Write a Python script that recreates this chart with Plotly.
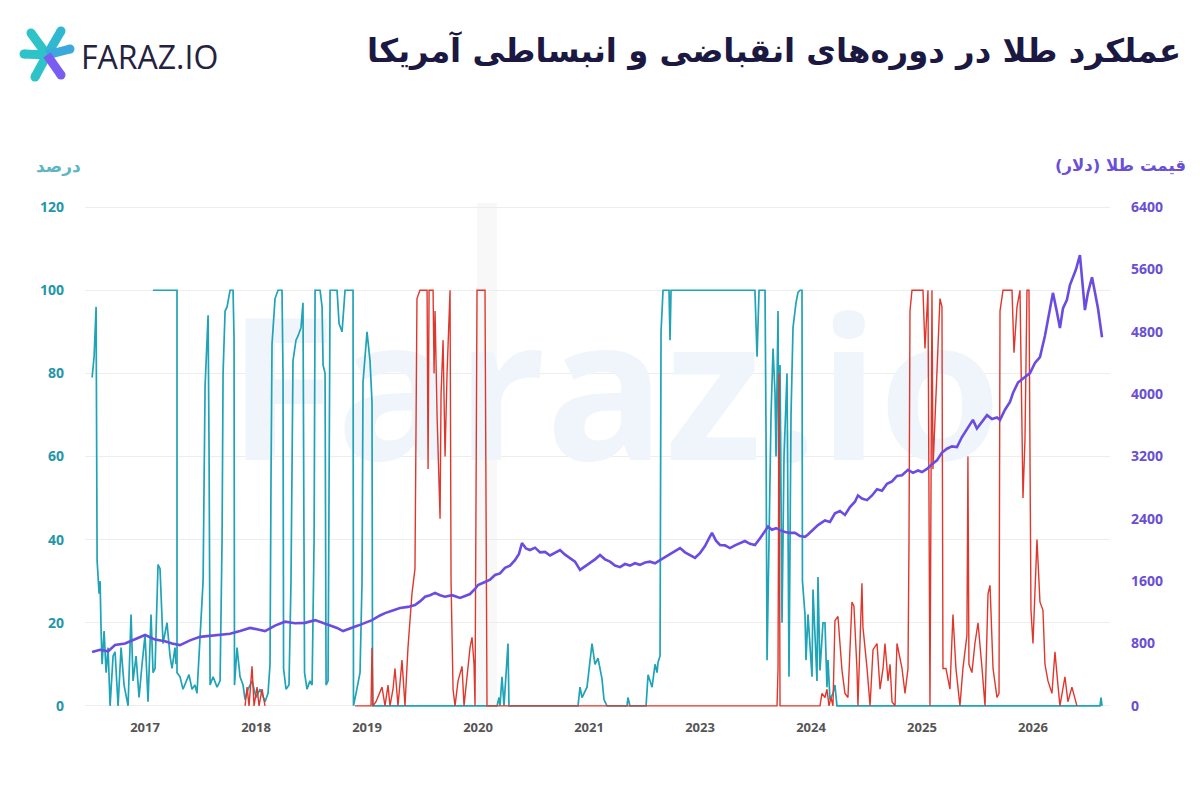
import plotly.graph_objects as go

# ---------------- data (x = position on the time axis, 0 = first labelled year) -------------
tick_pos = [0, 1, 2, 3, 4, 5, 6, 7, 8]
tick_txt = ["2017", "2018", "2019", "2020", "2021", "2023", "2024", "2025", "2026"]

pct_ticks = [0, 20, 40, 60, 80, 100, 120]
usd_ticks = [0, 800, 1600, 2400, 3200, 4000, 4800, 5600, 6400]

# expansion series (teal, %)
teal_x = [-0.477, -0.459, -0.441, -0.437, -0.432, -0.414, -0.405, -0.396, -0.387, -0.369, -0.351, -0.333,
          -0.315, -0.288, -0.270, -0.243, -0.216, -0.189, -0.153, -0.126, -0.108, -0.081, -0.054, -0.027,
          0.000, 0.027, 0.054, 0.072, 0.090, 0.117, 0.135, 0.162, 0.198, 0.225, 0.243, 0.270, 0.279,
          None,
          0.072, 0.288, 0.288, 0.315, 0.342, 0.369, 0.396, 0.423, 0.450, 0.468, 0.486, 0.505, 0.523, 0.541,
          0.568, 0.577, 0.586, 0.613, 0.649, 0.676, 0.694, 0.703, 0.721, 0.739, 0.766, 0.793, 0.802, 0.806,
          0.829, 0.856, 0.883, 0.901, 0.928, 0.964, 1.000, 1.036, 1.081, 1.108, 1.126, 1.135, 1.144, 1.171,
          1.198, 1.234, 1.243, 1.248, 1.270, 1.297, 1.315, 1.333, 1.360, 1.378, 1.405, 1.423, 1.432, 1.437,
          1.459, 1.486, 1.505, 1.523, 1.532, 1.577, 1.595, 1.604, 1.622, 1.631, 1.649, 1.658, 1.667, 1.730,
          1.748, 1.775, 1.802, 1.874, 1.878, 1.901, 1.919, 1.937, 1.955, 1.964, 2.000, 2.027, 2.045, 2.050,
          3.171, 3.189, 3.198, 3.216, 3.234, 3.261, 3.270, 3.279, 3.901, 3.919, 3.937, 3.982, 4.009, 4.027,
          4.054, 4.081, 4.117, 4.135, 4.162, 4.342, 4.351, 4.369, 4.514, 4.532, 4.568, 4.595, 4.613, 4.622,
          4.640, 4.649, 4.667, 4.721, 4.730, 4.739, 5.495, 5.514, 5.532, 5.586, 5.595, 5.604, 5.622, 5.640,
          5.658, 5.676, 5.685, 5.703, 5.712, 5.721, 5.739, 5.757, 5.784, 5.788, 5.802, 5.820, 5.838, 5.865,
          5.883, 5.901, 5.919, 5.923, 5.946, 5.955, 5.973, 6.009, 6.018, 6.054, 6.063, 6.081, 6.108, 6.126,
          6.144, 6.153, 6.171, 6.198, 6.216, 6.234, 8.604, 8.613, 8.622]
teal_y = [79, 84, 96, 60, 35, 27, 30, 18, 10, 18, 8, 14,
          0, 12, 13, 0, 14, 5, 0, 22, 6, 12, 2, 10,
          17, 1, 22, 8, 9, 34, 33, 15, 20, 12, 9, 14, 10,
          None,
          100, 100, 8, 7, 4, 6, 7.5, 4, 5, 3, 12, 22, 30, 77,
          94, 60, 5, 7, 4.5, 6, 40, 80, 95, 96, 100, 100, 88, 5,
          14, 7, 5, 1.5, 4, 6, 2, 4, 1, 3, 10, 55, 87, 98,
          100, 100, 80, 9, 4, 5, 30, 83, 88, 89, 91, 97, 50, 8,
          4, 6, 5, 40, 100, 100, 96, 82, 80, 5, 6, 60, 100, 100,
          92, 90, 100, 100, 0, 3, 6, 8, 30, 78, 90, 83, 73, 0,
          0, 2, 0, 7, 0, 9.5, 15, 0, 0, 4.5, 2, 4.5, 11, 15,
          10, 11.5, 6.5, 1.5, 0, 0, 2, 0, 0, 7.5, 4.5, 10, 8, 10.5,
          12, 90, 100, 100, 88, 100, 100, 84, 100, 100, 65, 11, 40, 70,
          86, 75, 60, 95, 40, 82, 20, 60, 80, 63, 7, 70, 91, 97,
          99.5, 100, 100, 30, 22, 11, 22, 7, 28, 6, 31, 8.5, 20, 20,
          4.5, 11, 1.5, 3, 5, 0, 0, 2, 0]

# contraction series (red, %)
red_x = [0.901, 0.919, 0.937, 0.964, 0.982, 1.009, 1.027, 1.054, 1.081,
         None,
         1.892, 2.036, 2.045, 2.054, 2.081, 2.108, 2.135, 2.162, 2.189, 2.207, 2.234, 2.252, 2.279, 2.315,
         2.342, 2.369, 2.387, 2.405, 2.432, 2.441, 2.450, 2.477, 2.541, 2.550, 2.559, 2.595, 2.604, 2.613,
         2.631, 2.658, 2.667, 2.685, 2.703, 2.721, 2.748, 2.752, 2.757, 2.775, 2.793, 2.820, 2.856, 2.874,
         2.901, 2.928, 2.946, 2.964, 2.973, 2.982, 2.991, 3.063, 3.072, 3.081, 5.694, 5.703, 5.712, 5.721,
         6.081, 6.099, 6.126, 6.144, 6.162, 6.180, 6.198, 6.216, 6.243, 6.279, 6.306, 6.333, 6.369, 6.387,
         6.414, 6.423, 6.459, 6.468, 6.505, 6.532, 6.559, 6.595, 6.622, 6.649, 6.667, 6.694, 6.712, 6.730,
         6.757, 6.775, 6.820, 6.847, 6.874, 6.883, 6.892, 6.910, 7.009, 7.027, 7.054, 7.063, 7.072, 7.081,
         7.090, 7.099, 7.135, 7.162, 7.180, 7.189, 7.216, 7.252, 7.279, 7.306, 7.342, 7.369, 7.405, 7.414,
         7.423, 7.450, 7.477, 7.505, 7.541, 7.568, 7.595, 7.613, 7.640, 7.676, 7.694, 7.703, 7.730, 7.811,
         7.829, 7.856, 7.883, 7.910, 7.928, 7.946, 7.964, 7.973, 7.982, 8.000, 8.027, 8.036, 8.063, 8.090,
         8.108, 8.135, 8.171, 8.198, 8.225, 8.243, 8.288, 8.315, 8.351, 8.378, 8.396]
red_y = [0, 4.5, 0, 9.5, 0, 4.5, 0, 4, 0,
         None,
         0, 0, 14, 0, 1, 3, 4.5, 0, 5, 0, 4, 9, 0, 11,
         0, 14, 20, 27, 33, 70, 98, 100, 100, 57, 100, 100, 80, 95,
         70, 45, 75, 88, 60, 80, 100, 70, 30, 4, 0, 6, 9.5, 0,
         8, 14, 16.5, 10, 0, 50, 100, 100, 50, 0, 0, 9, 80, 0,
         0, 3, 2, 4, 0, 2, 0, 20.5, 21.5, 8.6, 3, 2, 25, 24,
         9, 0, 29.5, 19, 9, 0, 13.5, 15, 4, 9, 15, 6, 10, 1,
         0, 15, 9, 3, 9, 40, 95, 100, 100, 86, 100, 50, 0, 50,
         100, 57, 80, 98, 96, 9, 9, 4, 22, 9, 0, 9, 17, 60,
         10, 8, 15, 20, 9, 0, 27, 29, 9, 2, 3, 95, 100, 100,
         85, 96, 100, 50, 64, 100, 100, 60, 23, 15, 33, 40, 25, 23,
         10, 6, 3, 13, 5, 0, 7, 1, 4.5, 2, 0]

# gold price (purple, USD)
gold_x = [-0.477, -0.405, -0.333, -0.270, -0.180, -0.090, 0.000, 0.045, 0.090, 0.180, 0.243, 0.315,
          0.405, 0.495, 0.586, 0.676, 0.766, 0.856, 0.946, 1.018, 1.081, 1.171, 1.261, 1.351,
          1.441, 1.532, 1.595, 1.667, 1.730, 1.784, 1.847, 1.919, 1.982, 2.045, 2.117, 2.162,
          2.225, 2.297, 2.369, 2.432, 2.477, 2.523, 2.568, 2.613, 2.658, 2.703, 2.766, 2.838,
          2.883, 2.928, 2.973, 3.000, 3.063, 3.108, 3.153, 3.198, 3.243, 3.288, 3.333, 3.369,
          3.396, 3.432, 3.468, 3.514, 3.559, 3.604, 3.649, 3.694, 3.739, 3.784, 3.829, 3.874,
          3.919, 3.964, 4.009, 4.054, 4.099, 4.144, 4.189, 4.234, 4.279, 4.324, 4.369, 4.414,
          4.459, 4.505, 4.550, 4.595, 4.640, 4.685, 4.730, 4.775, 4.820, 4.865, 4.910, 4.955,
          5.000, 5.045, 5.081, 5.108, 5.144, 5.180, 5.225, 5.270, 5.315, 5.360, 5.405, 5.450,
          5.495, 5.541, 5.586, 5.613, 5.649, 5.685, 5.721, 5.766, 5.811, 5.856, 5.901, 5.946,
          5.973, 6.009, 6.063, 6.126, 6.171, 6.216, 6.261, 6.306, 6.351, 6.396, 6.423, 6.459,
          6.505, 6.550, 6.595, 6.640, 6.685, 6.730, 6.775, 6.820, 6.874, 6.919, 6.964, 7.000,
          7.045, 7.090, 7.135, 7.180, 7.225, 7.270, 7.315, 7.360, 7.405, 7.432, 7.459, 7.495,
          7.541, 7.586, 7.631, 7.676, 7.703, 7.748, 7.793, 7.820, 7.865, 7.910, 7.973, 8.018,
          8.063, 8.108, 8.153, 8.180, 8.216, 8.243, 8.270, 8.306, 8.333, 8.360, 8.387, 8.423,
          8.450, 8.468, 8.495, 8.532, 8.559, 8.586, 8.622]
gold_y = [690, 720, 700, 780, 800, 860, 910, 880, 850, 830, 800, 780,
          840, 885, 900, 910, 925, 960, 1000, 980, 960, 1030, 1080, 1060,
          1065, 1100, 1070, 1040, 1000, 960, 990, 1030, 1065, 1100, 1160, 1190,
          1220, 1255, 1270, 1295, 1340, 1400, 1420, 1450, 1420, 1400, 1420, 1385,
          1410, 1435, 1500, 1550, 1590, 1620, 1680, 1700, 1770, 1800, 1870, 1950,
          2090, 2020, 2000, 2030, 1970, 1975, 1930, 1960, 2000, 1940, 1900, 1850,
          1745, 1790, 1830, 1880, 1935, 1880, 1850, 1800, 1780, 1820, 1800, 1830,
          1810, 1840, 1850, 1830, 1870, 1910, 1950, 1990, 2025, 1970, 1935, 1900,
          1960, 2050, 2150, 2220, 2120, 2065, 2060, 2025, 2060, 2090, 2115, 2080,
          2065, 2150, 2250, 2300, 2260, 2280, 2255, 2230, 2220, 2220, 2180, 2170,
          2200, 2250, 2320, 2380, 2360, 2470, 2500, 2450, 2550, 2620, 2700, 2660,
          2640, 2700, 2780, 2760, 2850, 2880, 2950, 2960, 3030, 2990, 3020, 3000,
          3040, 3100, 3150, 3250, 3300, 3330, 3320, 3450, 3550, 3600, 3670, 3560,
          3650, 3730, 3680, 3700, 3670, 3800, 3900, 4015, 4150, 4200, 4270, 4400,
          4475, 4750, 5100, 5300, 5050, 4850, 5100, 5210, 5400, 5500, 5600, 5785,
          5400, 5080, 5300, 5500, 5300, 5100, 4730]

title_text = "عملکرد طلا در دوره\u200cهای انقباضی و انبساطی آمریکا"
left_title = "درصد"
right_title = "قیمت طلا (دلار)"
brand = "FARAZ.IO"
watermark = "Faraz.io"

TEAL = "#1fa3b7"
RED = "#e0372d"
PURPLE = "#6a4de0"

fig = go.Figure()

# faint watermark (drawn first, under everything)
fig.add_trace(go.Scatter(x=[4.23], y=[71], mode="text", text=[watermark],
                         textfont=dict(family="Open Sans", size=198, color="#eff5fb", weight="bold"),
                         textposition="middle center", hoverinfo="skip", showlegend=False))

fig.add_trace(go.Scatter(x=teal_x, y=teal_y, mode="lines", line=dict(color=TEAL, width=1.7),
                         connectgaps=False, showlegend=False))
fig.add_trace(go.Scatter(x=red_x, y=red_y, mode="lines", line=dict(color=RED, width=1.4),
                         connectgaps=False, showlegend=False))
fig.add_trace(go.Scatter(x=gold_x, y=gold_y, mode="lines", yaxis="y2",
                         line=dict(color=PURPLE, width=2.6), showlegend=False))

fig.update_layout(
    width=1200, height=800,
    paper_bgcolor="white", plot_bgcolor="white",
    margin=dict(l=85, r=90, t=203, b=90),
    xaxis=dict(range=[-0.541, 8.694], tickvals=tick_pos, ticktext=tick_txt,
               showgrid=False, zeroline=False, showline=False, ticks="",
               tickfont=dict(family="Open Sans", size=13, color="#555555", weight="bold"),
               ticklabelstandoff=8),
    yaxis=dict(range=[-1, 121], tickvals=pct_ticks, showgrid=True, gridcolor="#ededed",
               gridwidth=1, zeroline=False, showline=False, ticks="",
               tickfont=dict(family="Open Sans", size=14, color="#2596a9", weight="bold"),
               ticklabelstandoff=20),
    yaxis2=dict(range=[-53.33, 6453.33], tickvals=usd_ticks, overlaying="y", side="right",
                showgrid=False, zeroline=False, showline=False, ticks="",
                tickfont=dict(family="Open Sans", size=14, color="#6a4fd2", weight="bold"),
                ticklabelstandoff=20),
)

# faint vertical highlight band
fig.add_shape(type="rect", xref="x", yref="paper", x0=2.99, x1=3.17, y0=0, y1=1.0,
              fillcolor="#f8f8f8", line=dict(width=0), layer="below")

ann = []
ann.append(dict(text=title_text, xref="paper", yref="paper", x=1.0712, y=1.3018,
                xanchor="right", yanchor="middle", showarrow=False,
                font=dict(family="DejaVu Sans", size=32.3, color="#1b1842", weight="bold")))
ann.append(dict(text=brand, xref="paper", yref="paper", x=-0.0059, y=1.289,
                xanchor="left", yanchor="middle", showarrow=False,
                font=dict(family="Open Sans", size=32, color="#25223f")))
ann.append(dict(text=left_title, xref="paper", yref="paper", x=-0.0254, y=1.073,
                xanchor="center", yanchor="middle", showarrow=False,
                font=dict(family="DejaVu Sans", size=17, color="#5fb6c3", weight="bold")))
ann.append(dict(text=right_title, xref="paper", yref="paper", x=1.0098, y=1.073,
                xanchor="center", yanchor="middle", showarrow=False,
                font=dict(family="DejaVu Sans", size=16.5, color="#6a50d6", weight="bold")))
fig.update_layout(annotations=ann)

# logo asterisk (pixel offsets from plot's top-left corner)
cx, cy = -38, 148
arms = [(-54, 170, "#2ec3c8"), (-24, 172, "#2fb8cf"), (-61, 149, "#2ec3c8"),
        (-15, 154, "#3aa9db"), (-50, 126, "#2ec3c8"), (-24, 128, "#7a5cf2")]
for ex, ey, col in arms:
    fig.add_shape(type="line", xref="paper", yref="paper", xsizemode="pixel", ysizemode="pixel",
                  xanchor=0, yanchor=1, x0=cx, y0=cy, x1=ex, y1=ey,
                  line=dict(color=col, width=9))
    fig.add_shape(type="circle", xref="paper", yref="paper", xsizemode="pixel", ysizemode="pixel",
                  xanchor=0, yanchor=1, x0=ex - 4.5, y0=ey - 4.5, x1=ex + 4.5, y1=ey + 4.5,
                  fillcolor=col, line=dict(width=0))

fig.write_html("out.html")
